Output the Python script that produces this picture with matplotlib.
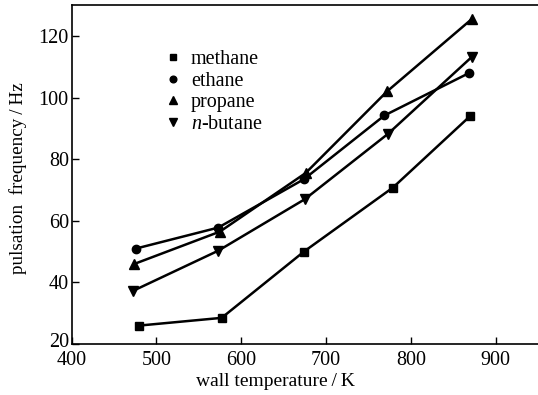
import matplotlib
matplotlib.use("Agg")
import matplotlib.pyplot as plt
from matplotlib.transforms import ScaledTranslation

plt.rcParams['font.family'] = ['Liberation Serif', 'DejaVu Serif']
plt.rcParams['mathtext.fontset'] = 'custom'
plt.rcParams['mathtext.it'] = 'Liberation Serif:italic'
plt.rcParams['mathtext.rm'] = 'Liberation Serif'

# wall temperature (K) and pulsation frequency (Hz)
methane_T = [480, 577, 674, 779, 870]
methane_f = [26, 28.5, 50, 70.8, 94]

ethane_T = [476, 573, 674, 769, 869]
ethane_f = [51, 57.8, 73.5, 94.2, 108]

propane_T = [474, 575, 676, 772, 872]
propane_f = [46, 56.5, 75.5, 102, 125.5]

butane_T = [472, 573, 675, 773, 872]
butane_f = [37.2, 50.3, 67, 88.2, 113.2]

labels = ['methane', 'ethane', 'propane', r'$n$-butane']

fig, ax = plt.subplots(figsize=(5.38, 3.95), dpi=100)
fig.subplots_adjust(left=0.133, right=1.0, bottom=0.129, top=0.987)

ax.plot(methane_T, methane_f, 'k-', marker='s', ms=6, lw=1.8, label=labels[0])
ax.plot(ethane_T, ethane_f, 'k-', marker='o', ms=6, lw=1.8, label=labels[1])
ax.plot(propane_T, propane_f, 'k-', marker='^', ms=7, lw=1.8, label=labels[2])
ax.plot(butane_T, butane_f, 'k-', marker='v', ms=7, lw=1.8, label=labels[3])

ax.set_xlim(400, 950)
ax.set_ylim(20, 130)
ax.set_xticks([400, 500, 600, 700, 800, 900])
ax.set_yticks([20, 40, 60, 80, 100, 120])
ax.tick_params(direction='in', labelsize=14.5, length=5, width=1)
ax.tick_params(axis='x', pad=5)
ax.tick_params(axis='y', pad=2)
ax.spines['right'].set_visible(False)
for s in ['left', 'bottom', 'top']:
    ax.spines[s].set_linewidth(1.2)

# nudge the "20" label up a little so it clears "400", as in the original
lbl20 = ax.get_yticklabels()[0]
lbl20.set_transform(lbl20.get_transform() + ScaledTranslation(0, 3 / 72, fig.dpi_scale_trans))

ax.set_xlabel('wall temperature\u2009/\u2009K', fontsize=14)
ax.xaxis.set_label_coords(0.438, -0.085)
ax.set_ylabel('pulsation  frequency\u2009/\u2009Hz', fontsize=13.8)
ax.yaxis.set_label_coords(-0.096, 0.49)

# legend: marker only, no line
handles, labs = ax.get_legend_handles_labels()
leg = ax.legend(handles, labs, loc='upper left', bbox_to_anchor=(0.165, 0.92),
                frameon=False, fontsize=14.5, handlelength=0.6, handletextpad=0.6,
                labelspacing=0.12, markerscale=0.8)
for h in leg.legend_handles:
    h.set_linestyle('')

fig.savefig('out.png', dpi=100)
